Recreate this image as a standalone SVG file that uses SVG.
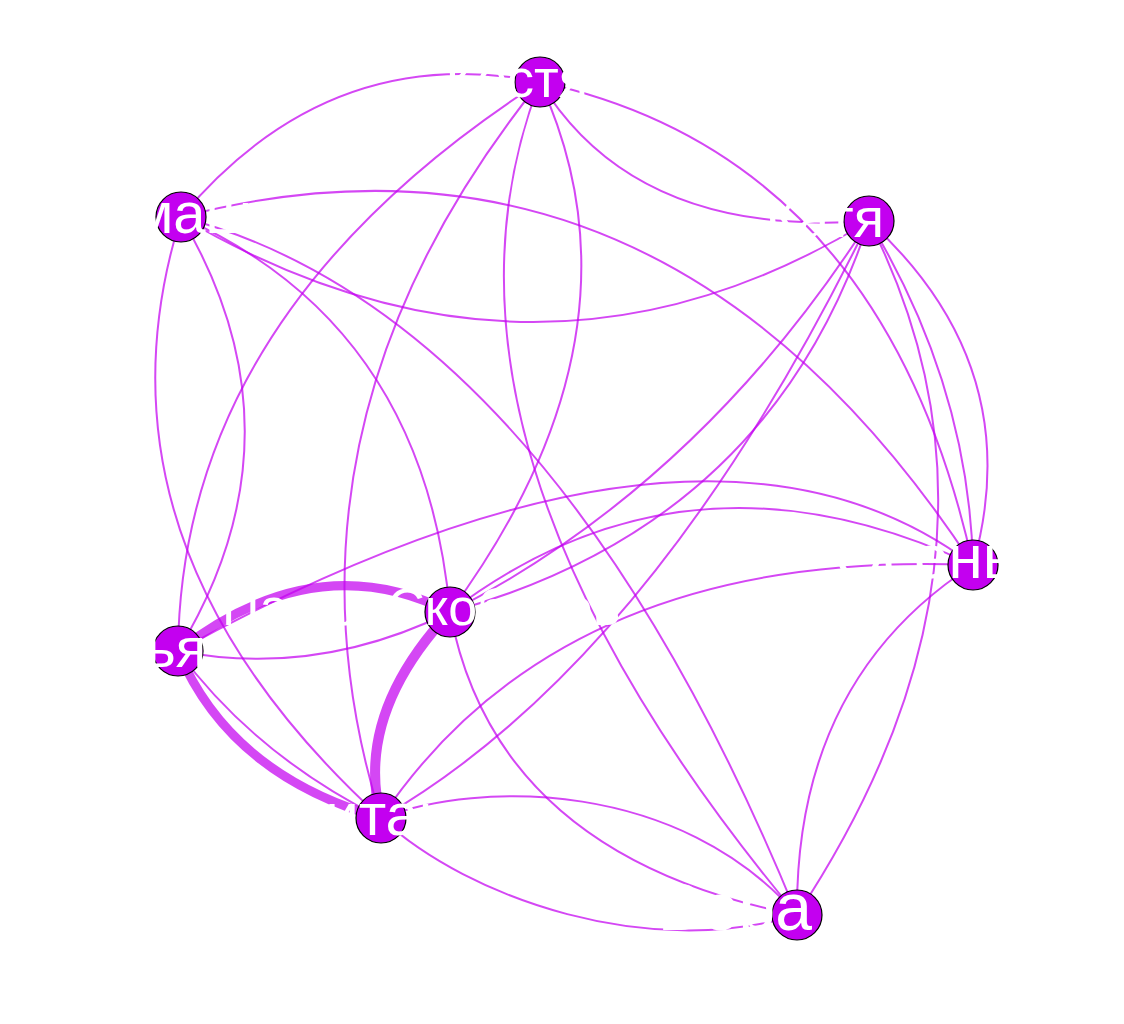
<svg xmlns="http://www.w3.org/2000/svg" width="1124" height="1024" viewBox="0 0 1124 1024">
<style>
.e{fill:none;stroke:#C300F0;stroke-opacity:0.72;stroke-width:2}
.t{stroke-width:9}
.n{fill:#C300F0;stroke:#000;stroke-width:1.2}
.l{fill:#fff;font-family:"Liberation Sans",Arial,sans-serif;text-anchor:end}
</style>
<rect width="1124" height="1024" fill="#fff"/>
<g id="edges">
<path class="e" d="M540,82 Q329,40 181,217"/>
<path class="e" d="M540,82 Q635,238 869,221"/>
<path class="e" d="M540,82 Q883,156 973,565"/>
<path class="e" d="M540,82 Q181,313 178,651"/>
<path class="e" d="M540,82 Q260,430 381,818"/>
<path class="e" d="M540,82 Q655,333 450,612"/>
<path class="e" d="M540,82 Q401,441 797,915"/>
<path class="e" d="M181,217 Q535,425 869,221"/>
<path class="e" d="M181,217 Q663,92 973,565"/>
<path class="e" d="M181,217 Q551,314 797,915"/>
<path class="e" d="M181,217 Q424,325 450,612"/>
<path class="e" d="M181,217 Q310,434 178,651"/>
<path class="e" d="M181,217 Q79,542 381,818"/>
<path class="e t" d="M178,651 Q230,775 381,818"/>
<path class="e" d="M178,651 Q255,755 381,818"/>
<path class="e t" d="M178,651 Q316,544 450,612"/>
<path class="e" d="M178,651 Q316,678 450,612"/>
<path class="e t" d="M450,612 Q354,715 381,818" style="stroke-width:10"/>
<path class="e" d="M178,651 Q704,362 973,565"/>
<path class="e" d="M450,612 Q700,484 869,221"/>
<path class="e" d="M450,612 Q770,524 869,221"/>
<path class="e" d="M450,612 Q688,431 973,565"/>
<path class="e" d="M381,818 Q563,548 973,565"/>
<path class="e" d="M381,818 Q655,660 869,221"/>
<path class="e" d="M381,818 C480,780 680,780 797,915"/>
<path class="e" d="M381,818 C470,900 650,960 797,915"/>
<path class="e" d="M450,612 Q496,856 797,915"/>
<path class="e" d="M797,915 Q1037,552 869,221"/>
<path class="e" d="M797,915 Q795,680 973,565"/>
<path class="e" d="M869,221 Q1029,367 973,565"/>
<path class="e" d="M869,221 Q969,387 973,565"/>
</g>
<g id="node-kostya"><circle class="n" cx="540" cy="82" r="25"/></g>
<g id="node-roma"><circle class="n" cx="181" cy="217" r="25"/></g>
<g id="node-katya"><circle class="n" cx="869" cy="221" r="25"/></g>
<g id="node-osen"><circle class="n" cx="973" cy="565" r="25"/></g>
<g id="node-darya"><circle class="n" cx="178" cy="651" r="25"/></g>
<g id="node-pavel"><circle class="n" cx="450" cy="612" r="25"/></g>
<g id="node-kapitan"><circle class="n" cx="381" cy="818" r="25"/></g>
<g id="node-vera"><circle class="n" cx="797" cy="915" r="25"/></g>
<g id="labels">
<text class="l" x="588" y="97" font-size="54">Костя</text>
<text class="l" x="311" y="233" font-size="58">Ромашка</text>
<text class="l" x="884" y="237" font-size="56">Катя</text>
<text class="l" x="1015" y="578" font-size="62">Осень</text>
<text class="l" x="206" y="667" font-size="56">Дарья</text>
<text class="l" x="222" y="625" font-size="52" style="text-anchor:start">Павел Скобелев</text>
<text class="l" x="452" y="835" font-size="60">Капитан</text>
<text class="l" x="812" y="930" font-size="66">Вера</text>
</g>
</svg>
